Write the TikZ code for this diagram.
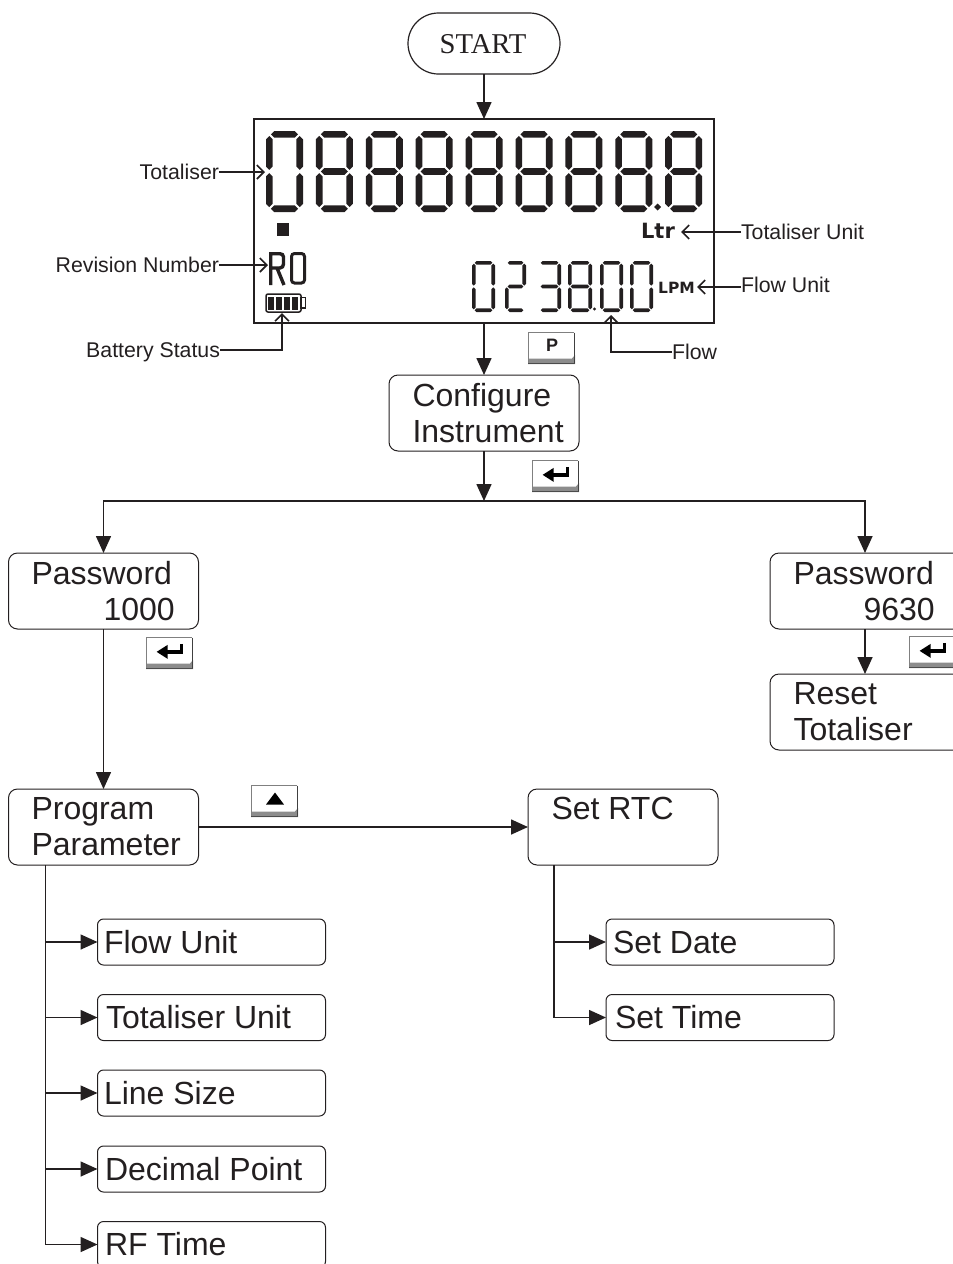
\documentclass[tikz,border=0pt]{standalone}
\usepackage{fontspec}
\setmainfont{Liberation Sans}
\newfontfamily\startfont{Liberation Serif}
\newfontfamily\heavyfont{DejaVu Sans}
\usetikzlibrary{arrows.meta,shapes.misc,calc}
\definecolor{ink}{HTML}{231F20}
\tikzset{
 x=1pt,y=-1pt,
 every node/.style={text=ink,inner sep=0pt,outer sep=0pt},
 flow/.style={draw=ink,line width=1.6pt,-{Triangle[length=17pt,width=15pt,fill=ink]}},
 plain/.style={draw=ink,line width=1.6pt},
 call/.style={draw=ink,line width=1.2pt,-{Straight Barb[length=7pt,width=14pt,line width=1.6pt]}},
 box/.style={draw=ink,line width=1pt,rounded corners=9pt,anchor=north west},
 boxt/.style={font=\fontsize{32}{36}\selectfont,align=left,anchor=north west},
 small/.style={font=\fontsize{21.3}{24}\selectfont},
 sub/.style={draw=ink,line width=1pt,rounded corners=6pt,minimum width=228pt,minimum height=46pt,anchor=west},
 subt/.style={font=\fontsize{32}{36}\selectfont,anchor=west},
}
\newcommand{\segH}[4]{\fill[ink] (#1+#4*.25,#2)--(#1+#4*.75,#2-#4/2)--(#3-#4*.75,#2-#4/2)--(#3-#4*.25,#2)--(#3-#4*.75,#2+#4/2)--(#1+#4*.75,#2+#4/2)--cycle;}
\newcommand{\segV}[4]{\fill[ink] (#1,#2+#4*.25)--(#1-#4/2,#2+#4*.75)--(#1-#4/2,#3-#4*.75)--(#1,#3-#4*.25)--(#1+#4/2,#3-#4*.75)--(#1+#4/2,#2+#4*.75)--cycle;}
\newcommand{\digit}[6]{% x y w h t segs
 \pgfmathsetmacro{\xa}{#1+#5/2}\pgfmathsetmacro{\xb}{#1+#3-#5/2}
 \pgfmathsetmacro{\ya}{#2+#5/2}\pgfmathsetmacro{\yc}{#2+#4-#5/2}\pgfmathsetmacro{\ym}{#2+#4/2}
 \foreach \s in {#6}{
  \ifnum\s=1 \segH{\xa}{\ya}{\xb}{#5}\fi
  \ifnum\s=2 \segV{\xb}{\ya}{\ym}{#5}\fi
  \ifnum\s=3 \segV{\xb}{\ym}{\yc}{#5}\fi
  \ifnum\s=4 \segH{\xa}{\yc}{\xb}{#5}\fi
  \ifnum\s=5 \segV{\xa}{\ym}{\yc}{#5}\fi
  \ifnum\s=6 \segV{\xa}{\ya}{\ym}{#5}\fi
  \ifnum\s=7 \segH{\xa}{\ym}{\xb}{#5}\fi
 }}
\newcommand{\keycap}[4]{% name x y content
 \fill[white] (#2,#3) rectangle ++(47,32);
 \fill[black!45] (#2,#3+26.5) -- (#2+44,#3+26.5) -- (#2+47,#3+23) -- (#2+47,#3+32) -- (#2,#3+32) -- cycle;
 \draw[black!50,line width=1.3pt] (#2+.6,#3+32)--(#2+.6,#3+.6)--(#2+46.4,#3+.6);
 \draw[black!75,line width=1.2pt] (#2+46.6,#3+.6)--(#2+46.6,#3+32);
 \draw[black!70,line width=1.2pt] (#2,#3+31.6)--(#2+47,#3+31.6);
 \node (#1) at (#2+24,#3+13.5) {#4};}
\newcommand{\enterglyph}{\tikz[x=1pt,y=-1pt,baseline=-3pt]{\draw[black,line width=3.4pt] (11,-8)--(11,0)--(-8,0); \fill[black] (-14,0)--(-3,-7)--(-3,7)--cycle;}}
\newcommand{\upglyph}{\tikz[x=1pt,y=-1pt]{\fill[black] (-9,6)--(9,6)--(0,-6)--cycle;}}
\begin{document}
\begin{tikzpicture}
\useasboundingbox (0,0) rectangle (953,1264);
% START
\node[draw=ink,line width=1.2pt,rounded rectangle,minimum width=152pt,minimum height=61pt] (start) at (484,43.5) {};
\node[font=\startfont\fontsize{28.7}{30}\selectfont] (startt) at (483,44) {START};
% LCD
\node[draw=ink,line width=1.2pt,anchor=north west,minimum width=460pt,minimum height=204pt] (lcd) at (254,119) {};
\digit{266}{131}{37}{81}{6.6}{1,2,3,4,5,6}
\foreach \i in {1,...,8}{\pgfmathsetmacro{\dx}{266+49.9*\i}\digit{\dx}{131}{37}{81}{6.6}{1,2,3,4,5,6,7}}
\fill[ink] (657.7,203.5)--(661.2,207)--(657.7,210.5)--(654.2,207)--cycle;
\fill[ink] (277,223) rectangle (289,236);
\node[font=\heavyfont\bfseries\fontsize{21}{24}\selectfont,anchor=center] (ltr) at (658,231) {Ltr};
\node[font=\heavyfont\bfseries\fontsize{15.5}{18}\selectfont,anchor=center] (lpm) at (676.5,288) {LPM};
% R0
\draw[ink,line width=3.4pt] (270.7,285)--(270.7,253.7)--(280,253.7) to[out=0,in=90] (283.5,257)--(283.5,264) to[out=-90,in=0] (280,268)--(270.7,268) (277,268)--(284,285);
\draw[ink,line width=3pt,rounded corners=3pt] (291.5,253.5)rectangle(304.5,283);
% small digits
\digit{472}{261}{23}{51}{3.6}{1,2,3,4,5,6}
\digit{505}{261}{21}{51}{3.6}{1,2,4,5,7}
\digit{538}{261}{23}{51}{3.6}{1,2,3,4,7}
\digit{568}{261}{24}{51}{3.6}{1,2,3,4,5,6,7}
\digit{600}{261}{23}{51}{3.6}{1,2,3,4,5,6}
\digit{630}{261}{23}{51}{3.6}{1,2,3,4,5,6}
\fill[ink] (594.5,309) circle (1.7);
% battery
\draw[ink,line width=1.5pt,rounded corners=2pt] (266,294) rectangle (301,312);
\draw[ink,line width=1.2pt] (301,297.5) rectangle (305.5,308);
\foreach \bx in {268,276,284,292}{\fill[ink] (\bx,296.5) rectangle ++(6.2,13);}
\coordinate (battip) at (282,313);
\coordinate (flowtip) at (611,315);
% labels
\node[small,anchor=east] (tot) at (219,172) {Totaliser};
\coordinate (tottip) at (265,172);
\draw[call] (tot.east)--(tottip);
\node[small,anchor=east] (rev) at (219,265) {Revision Number};
\coordinate (revtip) at (268,265);
\draw[call] (rev.east)--(revtip);
\node[small,anchor=east] (bat) at (220,352) {Battery Status};
\coordinate (batl) at (220,350);
\draw[call] (batl)-|(battip);
\node[small,anchor=west] (totu) at (741,232) {Totaliser Unit};
\coordinate (totutip) at (681,232);
\draw[call] (totu.west)--(totutip);
\node[small,anchor=west] (flu) at (741,285) {Flow Unit};
\coordinate (flutip) at (697,287);
\draw[call] (flu.west|-flutip)--(flutip);
\node[small,anchor=west] (fl) at (672,352) {Flow};
\draw[call] (fl.west)-|(flowtip);
% boxes
\node[box,minimum width=190pt,minimum height=76pt] (cfg) at (389,375) {};
\node[boxt] (cfgt) at (412.5,383) {Configure\\Instrument};
\node[box,minimum width=190pt,minimum height=76pt] (pw1) at (8.5,553) {};
\node[boxt] (pw1t) at (31.5,561) {Password\\\hspace*{72pt}1000};
\node[box,minimum width=200pt,minimum height=76pt] (pw2) at (770,553) {};
\node[boxt] (pw2t) at (793.5,561) {Password\\\hspace*{70pt}9630};
\node[box,minimum width=200pt,minimum height=76pt] (rst) at (770,674) {};
\node[boxt] (rstt) at (793.5,682) {Reset\\Totaliser};
\node[box,minimum width=190pt,minimum height=76pt] (prog) at (8.5,789) {};
\node[boxt] (progt) at (31.5,797) {Program\\Parameter};
\node[box,minimum width=190pt,minimum height=76pt] (rtc) at (528,789) {};
\node[boxt] (rtct) at (551.5,797) {Set RTC};
% sub boxes
\node[sub] (fu) at (97.5,942) {}; \node[subt] (fut) at (104,942) {Flow Unit};
\node[sub] (tu) at (97.5,1017.5) {}; \node[subt] (tut) at (106,1017.5) {Totaliser Unit};
\node[sub] (ls) at (97.5,1093) {}; \node[subt] (lst) at (104,1093) {Line Size};
\node[sub] (dp) at (97.5,1169) {}; \node[subt] (dpt) at (105,1169) {Decimal Point};
\node[sub] (rf) at (97.5,1244.5) {}; \node[subt] (rft) at (105,1244.5) {RF Time};
\node[sub] (sd) at (606,942) {}; \node[subt] (sdt) at (613,942) {Set Date};
\node[sub] (st) at (606,1017.5) {}; \node[subt] (stt) at (615,1017.5) {Set Time};
% flows
\draw[flow] (start.south)--(lcd.north -| start.south);
\draw[flow] (lcd.south -| start.south)--(cfg.north -| start.south);
\coordinate (split) at (484,501);
\draw[flow] (cfg.south -| split)--(split);
\coordinate (pw1in) at (103.5,553);
\coordinate (pw2in) at (865,553);
\draw[flow] (split)-|(pw1in);
\draw[flow] (split)-|(pw2in);
\coordinate (pw1out) at (103.5,629);
\coordinate (progin) at (103.5,789);
\draw[flow] (pw1out)--(progin);
\coordinate (pw2out) at (865,629);
\coordinate (rstin) at (865,674);
\draw[flow] (pw2out)--(rstin);
\coordinate (pa) at (198.5,827);
\coordinate (ra) at (528,827);
\draw[flow] (pa)--(ra);
\coordinate (t1) at (45.5,865);
\coordinate (t1e) at (45.5,1244.5);
\draw[plain] (t1)--(t1e);
\foreach \n/\yy in {fu/942,tu/1017.5,ls/1093,dp/1169,rf/1244.5}{\coordinate (j) at (45.5,\yy);\draw[flow] (j)--(\n.west);}
\coordinate (t2) at (554,865);
\coordinate (t2e) at (554,1017.5);
\draw[plain] (t2)--(t2e);
\foreach \n/\yy in {sd/942,st/1017.5}{\coordinate (j) at (554,\yy);\draw[flow] (j)--(\n.west);}
% keys
\keycap{kp}{528}{332}{\bfseries\fontsize{18}{18}\selectfont P}
\keycap{ke1}{532}{460}{\enterglyph}
\keycap{ke2}{146}{637}{\enterglyph}
\keycap{ke3}{909}{636}{\enterglyph}
\keycap{ku}{251}{785}{\upglyph}
\end{tikzpicture}
\end{document}
